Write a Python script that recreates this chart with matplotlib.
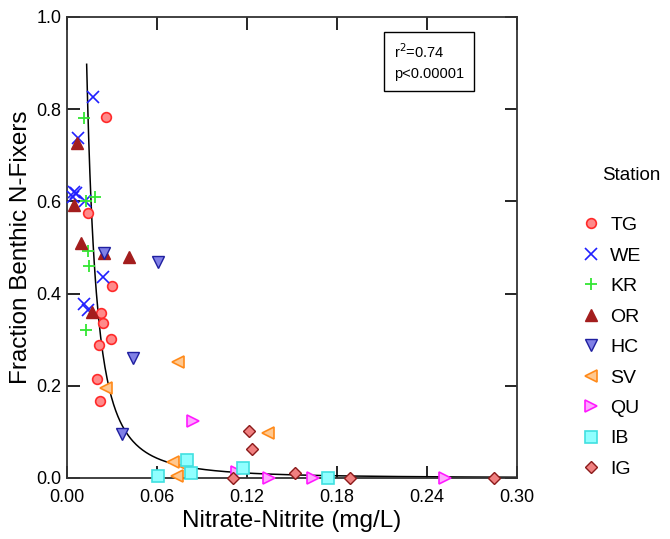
import numpy as np
import matplotlib
matplotlib.use("Agg")
import matplotlib.pyplot as plt
from matplotlib.lines import Line2D

plt.rcParams['font.family'] = ['Liberation Sans', 'DejaVu Sans']

# datos por estación: (nitrato-nitrito mg/L, fracción N-fijadores)
tg_x = [0.026, 0.014, 0.0302, 0.0227, 0.0242, 0.0293, 0.0216, 0.0198, 0.022]
tg_y = [0.784, 0.574, 0.417, 0.357, 0.337, 0.301, 0.289, 0.215, 0.166]

we_x = [0.0173, 0.0076, 0.0047, 0.006, 0.0042, 0.012, 0.0242, 0.0113, 0.0142]
we_y = [0.827, 0.738, 0.621, 0.618, 0.61, 0.60, 0.437, 0.377, 0.364]

kr_x = [0.0116, 0.0184, 0.013, 0.0142, 0.0147, 0.0124]
kr_y = [0.78, 0.61, 0.60, 0.493, 0.46, 0.321]

or_x = [0.0064, 0.0047, 0.0091, 0.0249, 0.0413, 0.0169]
or_y = [0.727, 0.592, 0.51, 0.487, 0.48, 0.359]

hc_x = [0.0249, 0.0609, 0.0438, 0.0364]
hc_y = [0.487, 0.469, 0.261, 0.095]

sv_x = [0.0742, 0.0258, 0.0709, 0.0787, 0.0731, 0.1342]
sv_y = [0.251, 0.195, 0.034, 0.025, 0.005, 0.098]

qu_x = [0.0838, 0.1131, 0.1349, 0.1642, 0.252]
qu_y = [0.124, 0.014, 0.0, 0.0, 0.0]

ib_x = [0.0798, 0.0609, 0.0827, 0.1176, 0.1742]
ib_y = [0.04, 0.005, 0.01, 0.021, 0.0]

ig_x = [0.1216, 0.1231, 0.1104, 0.152, 0.1887, 0.2847]
ig_y = [0.102, 0.063, 0.0, 0.01, 0.0, 0.0]

# curva ajustada y = a * x^b
fit_a = 0.000154
fit_b = -2.0
fit_x0, fit_x1 = 0.0131, 0.30

x_ticks = [0.0, 0.06, 0.12, 0.18, 0.24, 0.30]
y_ticks = [0.0, 0.2, 0.4, 0.6, 0.8, 1.0]

fig = plt.figure(figsize=(6.70, 5.39), dpi=100)
ax = fig.add_axes([0.1, 0.1132, 0.6716, 0.8553])

xc = np.linspace(fit_x0, fit_x1, 400)
ax.plot(xc, fit_a * xc ** fit_b, color='black', lw=1.1, zorder=2)

estilos = [
    ('TG', tg_x, tg_y, dict(marker='o', ms=7, mfc='#ff8a8a', mec='#ff2a2a', mew=1.2)),
    ('WE', we_x, we_y, dict(marker='x', ms=8, mfc='none', mec='#2020ff', mew=1.2)),
    ('KR', kr_x, kr_y, dict(marker='+', ms=9, mfc='none', mec='#33e633', mew=1.3)),
    ('OR', or_x, or_y, dict(marker='^', ms=8, mfc='#a31d1d', mec='#a31d1d', mew=1.0)),
    ('HC', hc_x, hc_y, dict(marker='v', ms=8, mfc='#8080e6', mec='#1f1fa0', mew=1.0)),
    ('SV', sv_x, sv_y, dict(marker='<', ms=8, mfc='#ffc890', mec='#ff8a1a', mew=1.2)),
    ('QU', qu_x, qu_y, dict(marker='>', ms=8, mfc='#ffa8ff', mec='#ff1aff', mew=1.2)),
    ('IB', ib_x, ib_y, dict(marker='s', ms=8, mfc='#90ffff', mec='#40e0e0', mew=1.2)),
    ('IG', ig_x, ig_y, dict(marker='D', ms=6, mfc='#f08080', mec='#8b1a1a', mew=1.0)),
]

handles = []
for nombre, xs, ys, st in estilos:
    ax.plot(xs, ys, ls='none', clip_on=False, zorder=3, **st)
    handles.append(Line2D([], [], ls='none', label=nombre, **st))

ax.set_xlim(0, 0.30)
ax.set_ylim(0, 1.0)
ax.set_xticks(x_ticks)
ax.set_yticks(y_ticks)
ax.set_xticklabels(['%.2f' % v for v in x_ticks])
ax.set_yticklabels(['%.1f' % v for v in y_ticks])
ax.tick_params(direction='in', length=9, width=1.2, top=True, right=True,
               labelsize=13)
ax.tick_params(axis='x', pad=8)
ax.tick_params(axis='y', pad=4)
for s in ax.spines.values():
    s.set_linewidth(1.3)
    s.set_color('#333333')

ax.set_xlabel('Nitrate-Nitrite (mg/L)', fontsize=17.5, labelpad=3)
ax.set_ylabel('Fraction Benthic N-Fixers', fontsize=17.5, labelpad=3)

ax.text(0.727, 0.945, 'r$^2$=0.74\np<0.00001', transform=ax.transAxes,
        fontsize=10.5, va='top', ha='left', linespacing=1.55,
        bbox=dict(boxstyle='square,pad=0.7', fc='white', ec='black', lw=1))

# título de la leyenda aparte, como en el original
fig.text(0.8985, 0.675, 'Station', fontsize=13.5, ha='left', va='center')
leg = fig.legend(handles=handles, loc='upper left',
                 bbox_to_anchor=(0.866, 0.598), frameon=False, fontsize=14,
                 borderpad=0, borderaxespad=0, handletextpad=0.45,
                 labelspacing=0.66, handlelength=1.1)

fig.savefig('out.png', dpi=100)
